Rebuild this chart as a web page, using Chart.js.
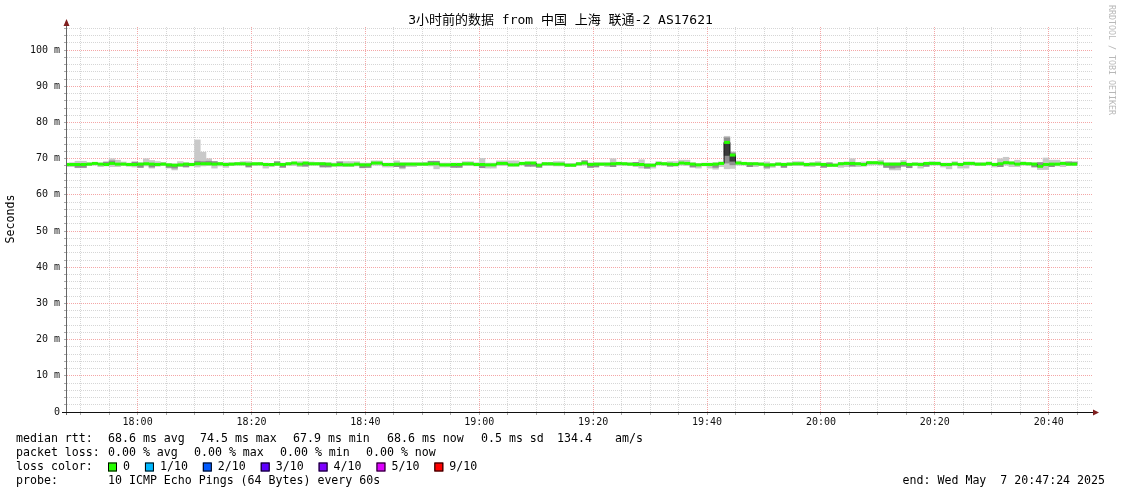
<!DOCTYPE html>
<html><head><meta charset="utf-8">
<script src="https://cdn.jsdelivr.net/npm/chart.js@4/dist/chart.umd.min.js"></script>
<style>html,body{margin:0;padding:0;background:#fff;}#wrap{width:1121px;height:494px;}</style>
</head><body><div id="wrap"><canvas id="c" width="1121" height="494"></canvas></div>
<script>
// minutes after 17:00; first bucket covers 17:47-17:48
const startMinute = 47;
const viewStart = 47.6;   // 17:47:36
const viewEnd = 227.6;    // 20:47:36

// median RTT per minute (ms)
const median = [
68.4,68.4,68.4,68.4,68.5,68.7,68.5,68.4,68.7,68.5,
68.5,68.4,68.4,68.5,68.6,68.5,68.4,68.5,68.3,68.2,
68.3,68.5,68.4,68.6,68.6,68.6,68.5,68.6,68.4,68.5,
68.6,68.6,68.5,68.6,68.6,68.4,68.4,68.5,68.4,68.6,
68.8,68.5,68.8,68.6,68.6,68.6,68.5,68.3,68.4,68.3,
68.3,68.5,68.3,68.3,68.8,68.8,68.4,68.4,68.5,68.5,
68.5,68.5,68.5,68.5,68.6,68.6,68.3,68.3,68.4,68.4,
68.6,68.6,68.4,68.4,68.3,68.3,68.7,68.7,68.3,68.3,
68.7,68.8,68.8,68.2,68.6,68.6,68.5,68.5,68.2,68.2,
68.6,68.8,68.4,68.5,68.5,68.5,68.6,68.7,68.6,68.5,
68.4,68.4,68.2,68.2,68.7,68.6,68.5,68.4,68.8,68.7,
68.5,68.3,68.4,68.4,68.5,68.7,74.5,71.0,68.8,68.7,
68.6,68.6,68.5,68.3,68.3,68.5,68.4,68.5,68.6,68.6,
68.4,68.5,68.5,68.4,68.2,68.2,68.6,68.7,68.7,68.6,
68.4,68.9,68.9,68.8,68.5,68.5,68.5,68.7,68.4,68.5,
68.4,68.7,68.7,68.7,68.4,68.4,68.6,68.4,68.7,68.7,
68.5,68.5,68.7,68.4,68.6,68.9,68.8,68.5,68.7,68.6,
68.5,67.9,68.4,68.5,68.5,68.7,68.5,68.5
];
// smoke: fastest and slowest ping per minute
const smokeLo = [
67.8,67.8,67.5,67.5,68.1,68.2,67.8,68.0,67.8,67.8,
68.2,67.9,67.7,67.6,68.0,67.4,67.9,68.1,67.4,66.9,
67.8,68.0,68.0,67.7,68.0,68.1,67.4,68.0,67.6,68.1,
68.2,68.2,68.0,68.1,68.2,67.4,67.8,68.1,67.8,68.2,
68.1,67.8,68.1,68.2,68.2,68.0,67.9,67.9,67.8,67.8,
67.8,68.0,67.5,67.5,68.2,68.2,67.7,67.7,67.8,67.2,
67.8,67.8,68.1,68.1,68.0,67.2,67.7,67.7,67.7,67.7,
68.1,68.1,68.0,67.7,67.4,67.4,68.1,68.1,67.9,67.9,
68.2,68.0,68.0,67.7,68.1,68.1,68.0,68.0,67.8,67.8,
68.1,68.2,67.6,67.9,68.1,67.8,67.9,68.1,68.2,68.1,
67.8,67.4,67.3,67.4,68.2,68.2,68.0,67.9,68.2,68.1,
67.7,67.4,68.0,67.4,67.1,67.8,67.2,67.3,68.2,68.2,
67.8,67.8,68.1,67.2,67.6,68.1,67.7,68.1,68.1,68.1,
67.8,67.8,68.1,67.8,67.8,67.8,67.6,67.8,68.1,67.8,
67.9,68.2,68.3,68.2,67.6,66.9,66.9,68.0,67.6,68.1,
67.4,67.9,68.2,68.2,67.7,67.2,68.1,67.4,67.4,68.2,
68.1,68.1,68.2,67.7,67.8,68.2,67.8,67.8,68.2,68.2,
68.0,67.0,67.0,67.9,68.0,67.8,68.1,68.1
];
const smokeHi = [
68.8,68.9,69.3,69.3,68.9,69.0,68.8,69.0,70.0,69.6,
69.1,68.8,69.0,68.9,70.0,69.5,69.2,69.0,68.7,68.6,
69.2,68.9,68.8,75.2,71.8,70.0,69.2,69.0,68.9,68.9,
69.0,69.2,69.2,68.9,69.0,68.8,68.7,69.0,68.8,69.0,
69.1,69.2,69.1,69.1,69.0,69.0,68.9,68.8,69.2,69.2,
69.2,69.2,68.8,68.8,69.4,69.4,68.8,68.8,69.4,68.9,
68.9,68.9,68.9,69.0,69.3,69.3,68.8,68.8,68.8,68.8,
69.2,69.2,68.9,70.1,68.8,68.8,69.4,69.4,69.4,69.4,
69.0,69.1,69.1,68.6,69.0,69.0,69.2,69.2,68.7,68.7,
69.0,69.5,68.9,68.9,68.9,68.9,70.0,69.0,69.0,68.9,
68.9,69.7,68.7,68.6,69.2,69.0,69.2,69.2,69.6,69.6,
68.9,68.7,68.8,68.8,68.9,69.1,76.2,71.9,69.4,69.0,
69.0,69.0,68.9,69.1,68.7,68.9,68.8,68.9,69.2,69.2,
68.8,68.9,69.2,68.8,68.7,68.6,69.0,69.1,70.0,69.0,
69.1,69.2,69.2,69.6,68.9,68.9,68.9,69.5,68.8,68.9,
68.9,69.0,69.2,69.1,68.8,68.8,69.2,68.8,69.1,69.1,
68.9,68.9,69.1,68.8,70.0,70.4,69.2,69.6,69.1,69.0,
68.9,69.0,70.2,69.6,69.6,69.1,69.2,69.0
];
// denser inner smoke (minute, low, high)
const midMinute = [49,50,54,55,59,60,62,65,66,68,70,71,72,73,79,84,85,89,92,93,95,99,100,105,106,111,112,115,116,120,128,129,130,138,139,140,143,147,149,153,157,161,163,164,167,170,173,180,181,185,191,192,193,194,195,198,211,217,218,220,223,224];
const midLo = [67.6,67.6,68.4,68.7,68.4,67.6,67.7,67.6,67.4,67.7,68.6,68.6,68.6,68.5,67.7,68.5,67.6,67.9,67.7,67.7,68.4,67.5,67.6,67.8,67.6,68.6,68.6,67.6,67.6,67.5,67.9,67.9,67.6,68.8,67.6,67.7,67.8,68.4,67.4,67.9,67.7,67.6,68.8,68.3,67.8,67.6,67.6,67.6,68.2,67.9,67.6,67.4,67.6,67.9,67.5,67.9,67.8,67.7,67.9,67.8,68.5,68.5];
const midHi = [68.4,68.4,69.1,69.4,69.1,68.5,68.5,68.3,68.2,68.5,69.3,69.2,69.3,69.2,68.5,69.2,68.4,68.8,68.6,68.5,69.1,68.3,68.3,68.5,68.5,69.3,69.3,68.4,68.4,68.4,68.8,68.8,68.2,69.4,68.4,68.5,68.6,69.0,68.2,68.5,68.5,68.5,75.8,71.6,68.6,68.3,68.4,68.4,68.9,68.7,68.5,68.5,68.5,68.7,68.4,68.7,68.6,68.5,68.9,68.5,69.1,69.1];
// darkest core of the smoke
const darkMinute = [163,164];
const darkLo = [70.9,69.3];
const darkHi = [74.4,70.8];

const xTickLabels = ['18:00','18:20','18:40','19:00','19:20','19:40','20:00','20:20','20:40'];
const xLabelFirst = 60;  // 18:00
const yTickLabels = ['0','10 m','20 m','30 m','40 m','50 m','60 m','70 m','80 m','90 m','100 m'];

const titleText = '3小时前的数据 from 中国 上海 联通-2 AS17621';
const yAxisTitle = 'Seconds';
const watermark = 'RRDTOOL / TOBI OETIKER';
const rttItems = ['median rtt:', '68.6 ms avg', '74.5 ms max', '67.9 ms min', '68.6 ms now', '0.5 ms sd', '134.4', 'am/s'];
const lossItems = ['packet loss:', '0.00 % avg', '0.00 % max', '0.00 % min', '0.00 % now'];
const lossTitle = 'loss color:';
const lossLabels = ['0','1/10','2/10','3/10','4/10','5/10','9/10'];
const lossColors = ['#26ff00','#00b8ff','#0059ff','#5e00ff','#7e00ff','#dd00ff','#ff0000'];
const probeItems = ['probe:', '10 ICMP Echo Pings (64 Bytes) every 60s'];
const endLine = 'end: Wed May  7 20:47:24 2025';

const gridMinutes = [];
for (let m = 50; m <= 225; m += 5) gridMinutes.push(m);

const center = i => startMinute + i + 0.5;
const outerData = median.map((_, i) => ({x: center(i), y: [smokeLo[i], smokeHi[i]]}));
const midData = midMinute.map((m, i) => ({x: m + 0.5, y: [midLo[i], midHi[i]]}));
const darkData = darkMinute.map((m, i) => ({x: m + 0.5, y: [darkLo[i], darkHi[i]]}));
const medData = median.map((v, i) => ({x: center(i), y: v}));

const MONO = '"DejaVu Sans Mono", "Liberation Mono", monospace';
const MAJOR = '#f4a6a6';
const MINOR = '#d6d6d6';

// text layout (pixel columns of legend items)
const rttX = [16, 108, 200, 293, 387, 481, 557, 615];
const lossX = [16, 108, 194, 280, 366];
const probeX = [16, 108];

const deco = {
  id: 'deco',
  afterDraw(chart) {
    const ctx = chart.ctx, a = chart.chartArea;
    ctx.save();
    // axes
    ctx.lineWidth = 1;
    ctx.strokeStyle = '#666';
    ctx.beginPath();
    ctx.moveTo(a.left - 0.5, a.bottom + 3);
    ctx.lineTo(a.left - 0.5, a.top - 4);
    ctx.stroke();
    ctx.strokeStyle = '#111';
    ctx.beginPath();
    ctx.moveTo(a.left - 5, a.bottom + 0.5);
    ctx.lineTo(a.right + 2, a.bottom + 0.5);
    ctx.stroke();
    ctx.fillStyle = '#7f1f1f';
    ctx.beginPath();
    ctx.moveTo(a.left - 0.5, a.top - 8);
    ctx.lineTo(a.left - 3.5, a.top - 1);
    ctx.lineTo(a.left + 2.5, a.top - 1);
    ctx.closePath(); ctx.fill();
    ctx.beginPath();
    ctx.moveTo(a.right + 7, a.bottom + 0.5);
    ctx.lineTo(a.right + 1, a.bottom - 2.5);
    ctx.lineTo(a.right + 1, a.bottom + 3.5);
    ctx.closePath(); ctx.fill();

    // title
    ctx.fillStyle = '#000';
    ctx.textBaseline = 'middle';
    ctx.textAlign = 'center';
    ctx.font = '13px "DejaVu Sans Mono", "Noto Sans CJK SC", monospace';
    ctx.fillText(titleText, chart.width / 2, 21);

    // y title
    ctx.font = '11.6px ' + MONO;
    ctx.save();
    ctx.translate(11, 219);
    ctx.rotate(-Math.PI / 2);
    ctx.fillText(yAxisTitle, 0, 0);
    ctx.restore();

    // watermark
    ctx.save();
    ctx.fillStyle = '#b8b8b8';
    ctx.font = '8.3px ' + MONO;
    ctx.translate(1111, 60);
    ctx.rotate(Math.PI / 2);
    ctx.fillText(watermark, 0, 0);
    ctx.restore();

    // legend lines
    ctx.textAlign = 'left';
    ctx.font = '11.6px ' + MONO;
    const ly = 439, lh = 14;
    rttItems.forEach((t, i) => ctx.fillText(t, rttX[i], ly));
    lossItems.forEach((t, i) => ctx.fillText(t, lossX[i], ly + lh));
    const y3 = ly + 2 * lh;
    ctx.fillText(lossTitle, 16, y3);
    const cw = ctx.measureText('0').width;
    let cx = 107;
    lossLabels.forEach((lab, i) => {
      ctx.fillStyle = lossColors[i];
      ctx.fillRect(cx + 1, y3 - 4.5, 9, 9);
      ctx.strokeStyle = '#000';
      ctx.lineWidth = 1;
      ctx.strokeRect(cx + 1.5, y3 - 4, 8, 8);
      ctx.fillStyle = '#000';
      ctx.fillText(lab, cx + 16, y3);
      cx = cx + 16 + ctx.measureText(lab).width + 2 * cw;
    });
    const y4 = ly + 3 * lh;
    probeItems.forEach((t, i) => ctx.fillText(t, probeX[i], y4));
    ctx.textAlign = 'right';
    ctx.fillText(endLine, 1105, y4);
    ctx.restore();
  }
};

new Chart(document.getElementById('c'), {
  type: 'bar',
  data: {
    datasets: [
      {type: 'bar', data: outerData, backgroundColor: '#c9c9c9', borderWidth: 0, barPercentage: 1, categoryPercentage: 1, grouped: false, order: 5},
      {type: 'bar', data: midData, backgroundColor: '#8f8f8f', borderWidth: 0, barPercentage: 1, categoryPercentage: 1, grouped: false, order: 4},
      {type: 'bar', data: darkData, backgroundColor: '#3a3a3a', borderWidth: 0, barPercentage: 1, categoryPercentage: 1, grouped: false, order: 3},
      {type: 'line', data: medData, borderColor: '#202020', borderWidth: 1, stepped: 'middle', fill: false,
       pointStyle: 'line', pointRadius: 2.85, pointHoverRadius: 2.85, pointBorderWidth: 3, pointBorderColor: '#26ff00', pointBackgroundColor: '#26ff00', order: 1}
    ]
  },
  options: {
    responsive: false,
    devicePixelRatio: 1,
    animation: false,
    events: [],
    layout: {padding: {left: 0, right: 29, top: 27, bottom: 0}},
    plugins: {legend: {display: false}, tooltip: {enabled: false}, title: {display: false}},
    scales: {
      x: {
        type: 'linear', position: 'bottom', min: viewStart, max: viewEnd, offset: false,
        afterBuildTicks: s => { s.ticks = gridMinutes.map(v => ({value: v})); },
        afterFit: s => { s.height = 82; },
        grid: {offset: false, drawOnChartArea: true, drawTicks: true, tickLength: 3,
               color: c => (c.tick && c.tick.value % 20 === 0) ? MAJOR : MINOR,
               tickColor: '#aaa', tickBorderDash: [], lineWidth: 1},
        border: {display: false, dash: [1, 1]},
        ticks: {autoSkip: false, maxRotation: 0, minRotation: 0, padding: 1, color: '#111',
                font: {family: MONO, size: 10},
                callback: v => (v % 20 === 0 && v >= xLabelFirst) ? xTickLabels[(v - xLabelFirst) / 20] : ''}
      },
      y: {
        type: 'linear', position: 'left', min: 0, max: 106.4,
        afterFit: s => { s.width = 67; },
        grid: {drawOnChartArea: true, drawTicks: true, tickLength: 3,
               color: c => (c.tick && c.tick.value % 10 === 0) ? MAJOR : MINOR,
               tickColor: '#aaa', tickBorderDash: [], lineWidth: 1},
        border: {display: false, dash: [1, 1]},
        ticks: {stepSize: 2, includeBounds: false, autoSkip: false, padding: 4, color: '#111',
                font: {family: MONO, size: 10},
                callback: v => (v % 10 === 0) ? yTickLabels[v / 10] : ''}
      }
    }
  },
  plugins: [deco]
});
</script>
</body></html>
